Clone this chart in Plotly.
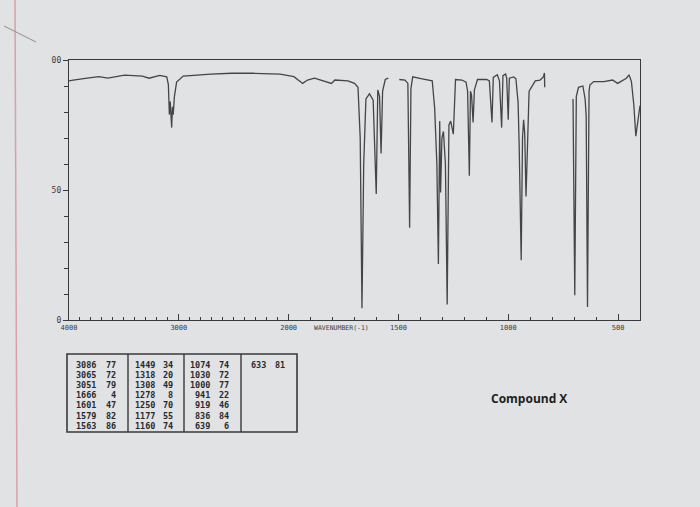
import plotly.graph_objects as go

W, H = 700, 507
ML, MR, MT, MB = 69, 60, 60, 187
PW, PH = W - ML - MR, H - MT - MB

# ---- spectrum trace (cm-1, %T); None = pen gap ----
wavenumber = [4000, 3962, 3835, 3728, 3646, 3493, 3333, 3270, 3174, 3110, 3095, 3086, 3078, 3065,
              3058, 3051, 3040, 3020, 2960, 2709, 2517, 2326, 2077, 1976, 1936, 1914, 1882, 1835,
              1805, 1789, 1730, 1700, 1684, 1674, 1666, 1658, 1648, 1632, 1615, 1601, 1594, 1586,
              1579, 1572, 1560, 1546, None, 1496, 1470, 1457, 1449, 1443, 1435, 1397, 1367, 1346,
              1335, 1325, 1318, 1314, 1312, 1308, 1302, 1295, 1286, 1278, 1270, 1262, 1250, 1240,
              1211, 1192, 1185, 1177, 1172, 1167, 1160, 1154, 1140, 1098, 1086, 1074, 1068, 1050,
              1040, 1030, 1024, 1012, 1007, 1000, 995, 975, 965, 955, 950, 941, 935, 930, 925, 919,
              905, 877, 855, 840, 835, 834, None, 705, 697, 690, 680, 660, 650, 645, 639, 632, 628,
              611, 565, 525, 502, 462, 450, 439, 428, 419, 405, 400]
transmittance = [92.0, 92.3, 93.0, 93.6, 93.0, 94.2, 93.8, 93.0, 94.1, 93.5, 90.5, 79, 84, 74,
                 82, 79, 86, 91.5, 93.8, 94.6, 94.9, 94.9, 94.6, 93.6, 91.0, 92.3, 93.0, 91.7,
                 91.0, 92.3, 92.0, 91.0, 89.5, 70, 4.5, 60, 85, 87, 84.5, 48.5, 88.5, 86,
                 64, 88, 92.5, 93, None, 92.5, 92.3, 91, 35.5, 89, 93.5, 92.8, 92.5, 92,
                 81.5, 60, 21.5, 53, 76.5, 49, 70, 72.5, 60, 6, 75, 76.5, 71.5, 92.5,
                 92.3, 91.5, 88, 55.5, 88, 86.5, 76, 88.5, 92.5, 92.5, 92, 76, 93.3, 94.3,
                 92, 74, 94, 94.6, 93, 77, 93, 93.5, 92.8, 83.5, 66.5, 23, 70, 77, 72, 47.5,
                 88, 92, 92.3, 93.5, 95, 89.5, None, 85, 9.5, 86, 89.5, 90, 85, 78.5, 5, 88, 90.4,
                 91.7, 91.7, 92.3, 91, 93, 94.3, 91.7, 82.6, 70.7, 78.5, 82.5]

# ---- axis ticks ----
x_major = [4000, 3500, 3000, 2500, 2000, 1500, 1000, 500]
x_major_text = ["4000", "", "3000", "", "2000", "1500", "1000", "500"]
x_minor = list(range(4000, 399, -100))
y_major = [0, 50, 100]
y_major_text = ["0", "50", "00"]
y_minor = list(range(0, 101, 10))

# ---- peak table ----
peak_wn = ["3086", "3065", "3051", "1666", "1601", "1579", "1563",
           "1449", "1318", "1308", "1278", "1250", "1177", "1160",
           "1074", "1030", "1000", "941", "919", "836", "639",
           "633"]
peak_t = [77, 72, 79, 4, 47, 82, 86,
          34, 20, 49, 8, 70, 55, 74,
          74, 72, 77, 22, 46, 84, 6,
          81]
axis_title = "WAVENUMBER(-1)"
caption = "Compound X"


def to_u(w):
    """Chart scale: 1000 cm-1 per unit above 2000, 500 cm-1 per unit below."""
    if w is None:
        return None
    return (4000 - w) / 1000 if w >= 2000 else 2 + (2000 - w) / 500


def px(xp):
    return (xp - ML) / PW


def py(yp):
    return (H - MB - yp) / PH


ink = "#3a3a3c"
bg = "#e1e2e4"

fig = go.Figure()
fig.add_trace(go.Scatter(
    x=[to_u(w) for w in wavenumber], y=transmittance, mode="lines",
    line=dict(color="#454547", width=1.3), connectgaps=False,
    hoverinfo="skip", showlegend=False))

fig.update_layout(
    width=W, height=H, margin=dict(l=ML, r=MR, t=MT, b=MB),
    paper_bgcolor=bg, plot_bgcolor=bg, showlegend=False,
    font=dict(family="DejaVu Sans Mono", color=ink),
)
fig.update_xaxes(
    range=[0, to_u(400)], showgrid=False, zeroline=False,
    showline=True, mirror=True, linecolor=ink, linewidth=1.3,
    tickmode="array", tickvals=[to_u(w) for w in x_major], ticktext=x_major_text,
    ticks="inside", ticklen=6, tickwidth=1.2, tickcolor=ink,
    tickfont=dict(size=7, family="DejaVu Sans Mono", color=ink),
    minor=dict(tickmode="array", tickvals=[to_u(w) for w in x_minor],
               ticks="inside", ticklen=3, tickwidth=1, tickcolor=ink, showgrid=False),
)
fig.update_yaxes(
    range=[0, 100], showgrid=False, zeroline=False,
    showline=True, mirror=True, linecolor=ink, linewidth=1.3,
    tickmode="array", tickvals=y_major, ticktext=y_major_text,
    ticks="outside", ticklen=5, tickwidth=1.2, tickcolor=ink,
    tickfont=dict(size=8, family="DejaVu Sans Mono", color=ink),
    minor=dict(tickmode="array", tickvals=y_minor, ticks="outside",
               ticklen=4, tickwidth=1, tickcolor=ink, showgrid=False),
)

shapes = []
annotations = []

# axis title
annotations.append(dict(x=px(341), y=py(334), xref="paper", yref="paper",
                        text=axis_title, showarrow=False,
                        font=dict(size=6.5, family="DejaVu Sans Mono", color=ink)))

# table frame
tx0, tx1, ty0, ty1 = 67, 297, 354, 432
shapes.append(dict(type="rect", xref="paper", yref="paper",
                   x0=px(tx0), x1=px(tx1), y0=py(ty0), y1=py(ty1),
                   line=dict(color=ink, width=1.6)))
for xd in [128, 184, 241]:
    shapes.append(dict(type="line", xref="paper", yref="paper",
                       x0=px(xd), x1=px(xd), y0=py(ty0), y1=py(ty1),
                       line=dict(color=ink, width=1.4)))

col_wn_right = [98, 157, 212, 268]
col_t_right = [118, 175, 231, 287]
row_y = [365, 375, 385, 395, 405, 416, 426]
tfont = dict(size=8.5, family="DejaVu Sans Mono", color="#2a2a2c")
for i, (wn, t) in enumerate(zip(peak_wn, peak_t)):
    c, r = divmod(i, 7)
    annotations.append(dict(x=px(col_wn_right[c]), y=py(row_y[r]), xref="paper", yref="paper",
                            text="<b>%s</b>" % wn, showarrow=False, xanchor="right",
                            yanchor="middle", font=tfont))
    annotations.append(dict(x=px(col_t_right[c]), y=py(row_y[r]), xref="paper", yref="paper",
                            text="<b>%s</b>" % t, showarrow=False, xanchor="right",
                            yanchor="middle", font=tfont))

# caption
annotations.append(dict(x=px(529), y=py(398), xref="paper", yref="paper",
                        text="<b>%s</b>" % caption, showarrow=False,
                        xanchor="center", yanchor="middle",
                        font=dict(size=12, family="Open Sans", color="#1e1e20")))

# notebook margin line and pencil stroke in the photo
shapes.append(dict(type="line", xref="paper", yref="paper",
                   x0=px(15), x1=px(17), y0=py(0), y1=py(H),
                   line=dict(color="#d9a0a8", width=1.5)))
shapes.append(dict(type="line", xref="paper", yref="paper",
                   x0=px(4), x1=px(36), y0=py(26), y1=py(42),
                   line=dict(color="#9a8a8c", width=1)))

fig.update_layout(shapes=shapes, annotations=annotations)
fig.write_html("out.html", config={"displayModeBar": False},
               post_script="document.body.style.margin='0';"
                           "document.body.style.background='%s';" % bg)
